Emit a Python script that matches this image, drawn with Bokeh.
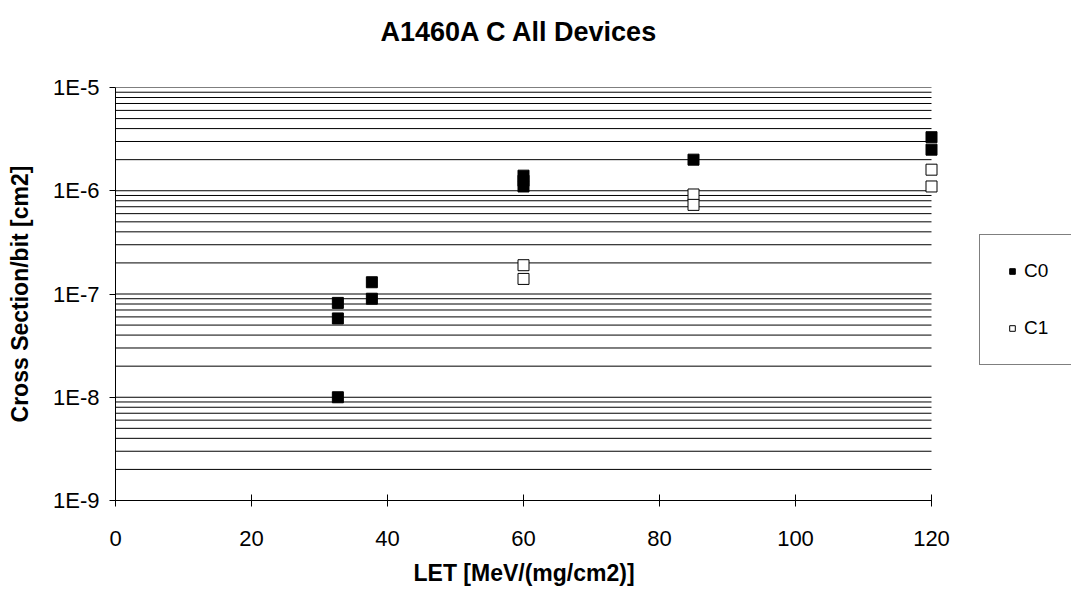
from bokeh.plotting import figure
from bokeh.models import FixedTicker, CustomJSTickFormatter, Legend, LegendItem, Range1d, Title
from bokeh.embed import file_html
from bokeh.resources import INLINE

title_text = "A1460A C All Devices"
x_label = "LET [MeV/(mg/cm2)]"
y_label = "Cross Section/bit [cm2]"
x_ticks = [0, 20, 40, 60, 80, 100, 120]
y_ticks = [1e-9, 1e-8, 1e-7, 1e-6, 1e-5]
y_minor = [m * d for d in [1e-9, 1e-8, 1e-7, 1e-6] for m in range(2, 10)]

c0_let = [32.7, 32.7, 32.7, 37.7, 37.7, 60, 60, 60, 85, 120, 120]
c0_xs = [8.2e-8, 5.8e-8, 1.0e-8, 1.3e-7, 9.0e-8, 1.4e-6, 1.25e-6, 1.1e-6, 2.0e-6, 3.3e-6, 2.5e-6]
c1_let = [60, 60, 85, 85, 120, 120]
c1_xs = [1.9e-7, 1.4e-7, 9.2e-7, 7.3e-7, 1.6e-6, 1.1e-6]

FONT = "Liberation Sans"
W, H = 1071, 601
LEFT, AXIS_RIGHT, TOP, BOTTOM = 115, 931, 87, 101
X_MIN, X_MAX = x_ticks[0], x_ticks[-1]
# frame extends to the right edge of the canvas (legend lives there); axis stops at X_MAX
x_end = X_MIN + (X_MAX - X_MIN) * (W - LEFT) / (AXIS_RIGHT - LEFT)

p = figure(width=W, height=H, y_axis_type="log",
           x_range=Range1d(X_MIN, x_end), y_range=Range1d(y_ticks[0], y_ticks[-1]),
           output_backend="svg", toolbar_location=None,
           min_border_left=LEFT, min_border_right=0,
           min_border_top=TOP, min_border_bottom=BOTTOM)

p.outline_line_color = None
p.background_fill_color = "white"
p.border_fill_color = "white"

# trailing empty line keeps the title near the top edge, as in the reference
t = Title(text=title_text + "\n", align="left", offset=265, standoff=18,
          vertical_align="top",
          text_font=FONT, text_font_size="27px", text_font_style="bold",
          text_color="black")
p.add_layout(t, "above")

# horizontal grid lines (decades + minor) spanning the x-axis extent only
grid_y = sorted(set(y_minor + y_ticks[1:]))
p.segment(x0=[X_MIN] * len(grid_y), y0=grid_y, x1=[X_MAX] * len(grid_y), y1=grid_y,
          line_color="black", line_width=1)
p.xgrid.grid_line_color = None
p.ygrid.grid_line_color = None

yt = FixedTicker(ticks=y_ticks, minor_ticks=y_minor)
p.yaxis.ticker = yt
p.yaxis.formatter = CustomJSTickFormatter(code="return '1E' + Math.round(Math.log10(tick));")
p.xaxis.ticker = FixedTicker(ticks=x_ticks)
p.xaxis.bounds = (X_MIN, X_MAX)

for ax in (p.xaxis[0], p.yaxis[0]):
    ax.axis_line_color = "black"
    ax.major_tick_line_color = "black"
    ax.minor_tick_line_color = None
    ax.major_label_text_font = FONT
    ax.major_label_text_font_size = "22px"
    ax.major_label_text_color = "black"
    ax.axis_label_text_font = FONT
    ax.axis_label_text_font_size = "23px"
    ax.axis_label_text_font_style = "bold"
    ax.axis_label_text_color = "black"

p.yaxis.axis_label = y_label
p.xaxis.major_tick_in = 6
p.xaxis.major_tick_out = 6
p.xaxis.major_label_standoff = 24
p.yaxis.major_tick_in = 0
p.yaxis.major_tick_out = 6
p.yaxis.major_label_standoff = 10
p.yaxis.axis_label_standoff = 17

xl = Title(text=x_label, align="left", offset=298, standoff=19,
           text_font=FONT, text_font_size="23px", text_font_style="bold",
           text_color="black")
p.add_layout(xl, "below")

r0 = p.scatter(c0_let, c0_xs, marker="square", size=11,
               fill_color="black", line_color="black")
r1 = p.scatter(c1_let, c1_xs, marker="square", size=11,
               fill_color="white", line_color="black")

legend = Legend(items=[LegendItem(label="C0", renderers=[r0]),
                       LegendItem(label="C1", renderers=[r1])],
                location=(864, 135),
                border_line_color="black", border_line_width=1,
                background_fill_color="white",
                padding=25, spacing=35, label_height=20, glyph_height=14,
                glyph_width=14, label_standoff=5,
                label_text_font=FONT, label_text_font_size="19px",
                label_text_color="black")
p.add_layout(legend, "center")

open("out.html", "w").write(file_html(p, INLINE))
